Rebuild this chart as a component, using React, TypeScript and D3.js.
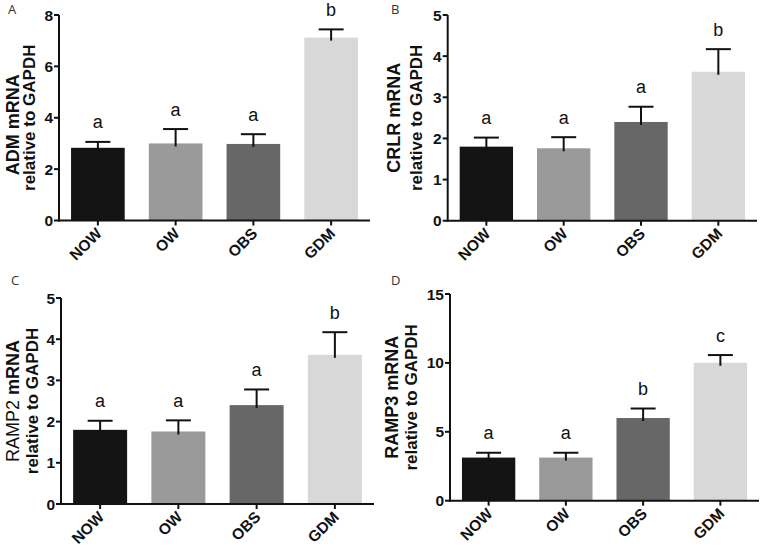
import React from "react";
import * as d3 from "d3";

const categories = ["NOW", "OW", "OBS", "GDM"];
const barColors = ["#141414", "#9a9a9a", "#676767", "#d8d8d8"];

const admMean = [2.83, 3.0, 2.98, 7.12];
const admSem = [0.23, 0.56, 0.38, 0.32];
const admLetters = ["a", "a", "a", "b"];

const crlrMean = [1.8, 1.76, 2.4, 3.62];
const crlrSem = [0.22, 0.27, 0.37, 0.55];
const crlrLetters = ["a", "a", "a", "b"];

const ramp2Mean = [1.8, 1.76, 2.4, 3.62];
const ramp2Sem = [0.22, 0.27, 0.38, 0.55];
const ramp2Letters = ["a", "a", "a", "b"];

const ramp3Mean = [3.13, 3.13, 6.0, 10.01];
const ramp3Sem = [0.35, 0.35, 0.69, 0.56];
const ramp3Letters = ["a", "a", "b", "c"];

const admTicks = [0, 2, 4, 6, 8];
const crlrTicks = [0, 1, 2, 3, 4, 5];
const ramp2Ticks = [0, 1, 2, 3, 4, 5];
const ramp3Ticks = [0, 5, 10, 15];

const FONT = "'Liberation Sans', Arial, sans-serif";

type PanelProps = {
  tag: string;
  tagX: number;
  tagY: number;
  x0: number;
  x1: number;
  yTop: number;
  yBot: number;
  max: number;
  ticks: number[];
  mean: number[];
  sem: number[];
  letters: string[];
  gene: string;
  geneBold: boolean;
  l1x: number;
  l2x: number;
  l1dy: number;
};

function Panel(p: PanelProps) {
  const x = d3.scaleBand<string>().domain(categories).range([p.x0, p.x1]).paddingInner(0.31).paddingOuter(0.155);
  const xc = d3.scaleBand<string>().domain(categories).range([p.x0, p.x1]);
  const y = d3.scaleLinear().domain([0, p.max]).range([p.yBot, p.yTop]);
  const bw = x.bandwidth();
  const capW = 25;
  const midY = (p.yTop + p.yBot) / 2;
  return (
    <g>
      <text x={p.tagX} y={p.tagY} fontFamily="'Open Sans', sans-serif" fontSize={13} fill="#333">
        {p.tag}
      </text>
      {categories.map((c, i) => {
        const cx = (xc(c) as number) + xc.bandwidth() / 2;
        const top = y(p.mean[i]);
        const errTop = y(p.mean[i] + p.sem[i]);
        return (
          <g key={c}>
            <rect x={cx - bw / 2} y={top} width={bw} height={p.yBot - top} fill={barColors[i]} />
            <line x1={cx} x2={cx} y1={top + 3} y2={errTop} stroke="#111" strokeWidth={2} />
            <line x1={cx - capW / 2} x2={cx + capW / 2} y1={errTop} y2={errTop} stroke="#111" strokeWidth={2} />
            <text x={cx} y={errTop - 13.5} textAnchor="middle" fontFamily={FONT} fontSize={18} fill="#111">
              {p.letters[i]}
            </text>
            <line x1={cx} x2={cx} y1={p.yBot} y2={p.yBot + 5} stroke="#111" strokeWidth={2} />
            <text
              transform={`translate(${cx + 5},${p.yBot + 14}) rotate(-45)`}
              textAnchor="end"
              fontFamily={FONT}
              fontWeight="bold"
              fontSize={15.5}
              fill="#111"
            >
              {c}
            </text>
          </g>
        );
      })}
      <line x1={p.x0} x2={p.x0} y1={p.yTop} y2={p.yBot + 1} stroke="#111" strokeWidth={2} />
      <line x1={p.x0 - 1} x2={p.x1} y1={p.yBot} y2={p.yBot} stroke="#111" strokeWidth={2} />
      {p.ticks.map((t) => (
        <g key={t}>
          <line x1={p.x0 - 5} x2={p.x0} y1={y(t)} y2={y(t)} stroke="#111" strokeWidth={2} />
          <text
            x={p.x0 - 6}
            y={y(t)}
            dy="0.36em"
            textAnchor="end"
            fontFamily={FONT}
            fontWeight="bold"
            fontSize={15.5}
            fill="#111"
          >
            {t}
          </text>
        </g>
      ))}
      <text
        transform={`translate(${p.l1x},${midY + p.l1dy}) rotate(-90)`}
        textAnchor="middle"
        fontFamily={FONT}
        fontSize={18}
        fill="#111"
      >
        <tspan fontWeight={p.geneBold ? "bold" : "normal"}>{p.gene}</tspan>
        <tspan fontWeight="bold"> mRNA</tspan>
      </text>
      <text
        transform={`translate(${p.l2x},${midY}) rotate(-90)`}
        textAnchor="middle"
        fontFamily={FONT}
        fontWeight="bold"
        fontSize={17}
        fill="#111"
      >
        relative to GAPDH
      </text>
    </g>
  );
}

export default function App() {
  return (
    <svg
      width={762}
      height={548}
      style={{ position: "absolute", left: 0, top: 0, background: "#fff" }}
    >
      <rect width={762} height={548} fill="#fff" />
      <Panel tag="A" tagX={8} tagY={14} x0={59} x1={370} yTop={15} yBot={220.5} max={8} ticks={admTicks}
        mean={admMean} sem={admSem} letters={admLetters} gene="ADM" geneBold={true} l1x={18.5} l2x={34.5} l1dy={7} />
      <Panel tag="B" tagX={391} tagY={14} x0={447.7} x1={757} yTop={15} yBot={220.7} max={5} ticks={crlrTicks}
        mean={crlrMean} sem={crlrSem} letters={crlrLetters} gene="CRLR" geneBold={true} l1x={400} l2x={422} l1dy={0} />
      <Panel tag="C" tagX={11} tagY={285} x0={61} x1={374} yTop={298} yBot={504} max={5} ticks={ramp2Ticks}
        mean={ramp2Mean} sem={ramp2Sem} letters={ramp2Letters} gene="RAMP2" geneBold={false} l1x={19} l2x={38} l1dy={0} />
      <Panel tag="D" tagX={391} tagY={285} x0={450} x1={759} yTop={294} yBot={500.7} max={15} ticks={ramp3Ticks}
        mean={ramp3Mean} sem={ramp3Sem} letters={ramp3Letters} gene="RAMP3" geneBold={true} l1x={398} l2x={417} l1dy={0} />
    </svg>
  );
}
